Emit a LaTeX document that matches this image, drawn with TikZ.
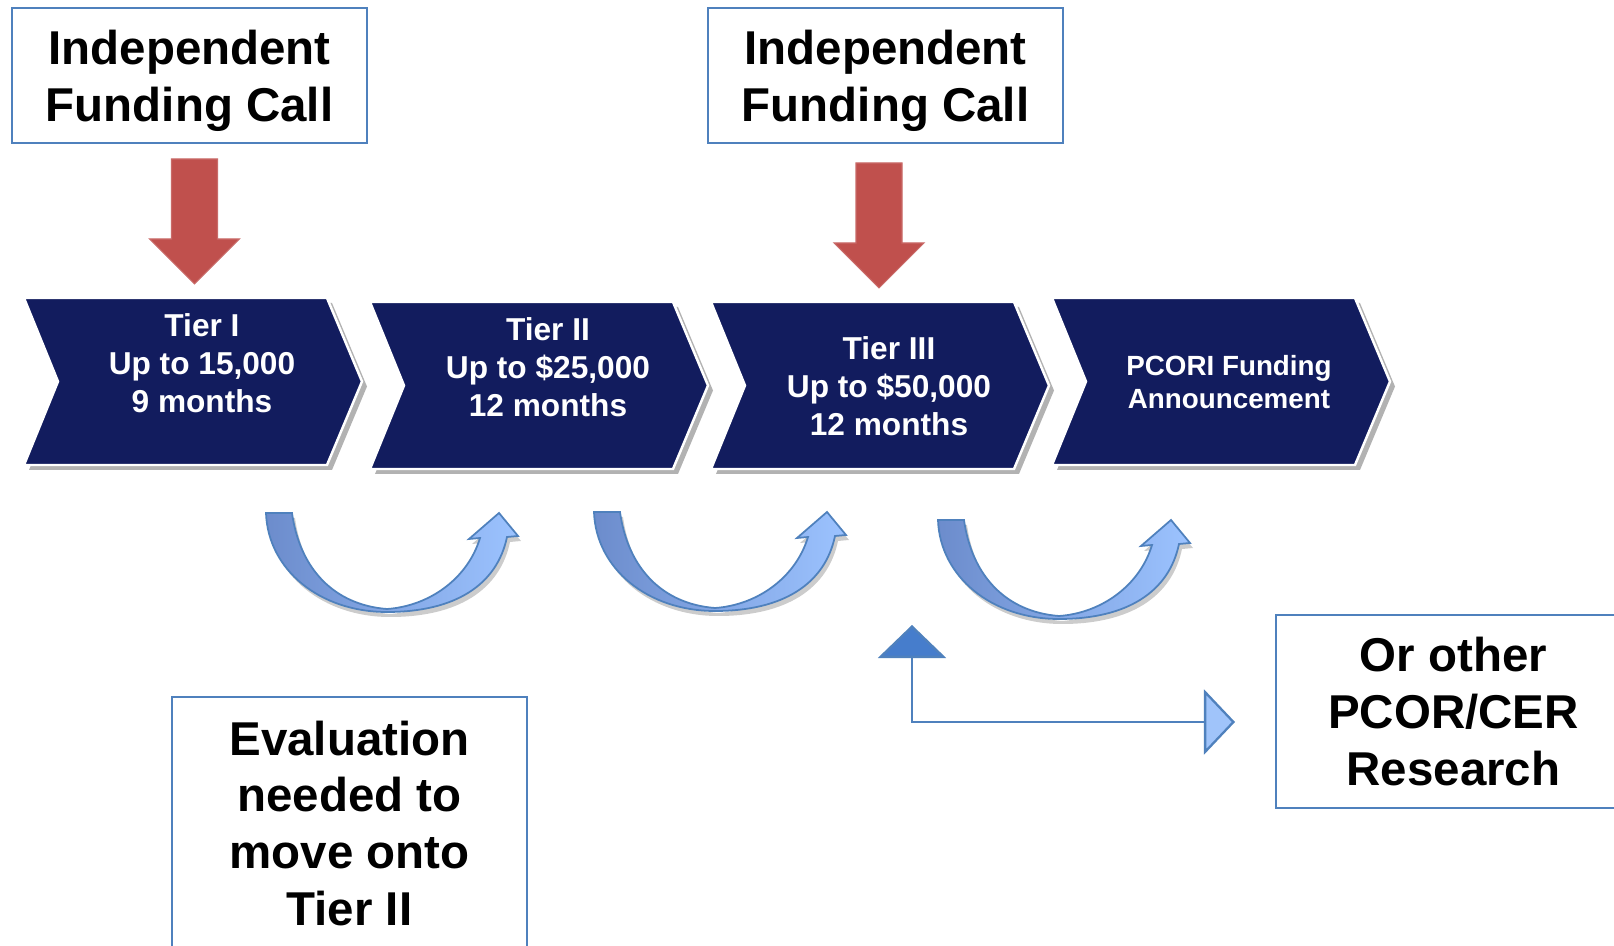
\documentclass[tikz,border=0pt]{standalone}
\usepackage{fontspec}
\setmainfont{Liberation Sans}
\usepackage{xcolor}
\usetikzlibrary{calc,shadows,arrows.meta}
\definecolor{tiernavy}{RGB}{18,28,94}
\definecolor{callred}{RGB}{192,80,77}
\definecolor{boxblue}{RGB}{79,129,189}
\definecolor{turnleft}{RGB}{108,140,204}
\definecolor{turnmid}{RGB}{56,102,184}
\definecolor{turnright}{RGB}{156,195,255}
\definecolor{bentdark}{RGB}{70,125,204}
\definecolor{bentlight}{RGB}{160,196,250}
\tikzset{
	bigtext/.style={font=\fontsize{13.5}{16.2}\selectfont\bfseries, align=center, text=black},
	fundbox/.style={draw=boxblue, line width=0.6pt, fill=white, minimum width=3.55cm, bigtext},
	chevron/.style={fill=tiernavy, draw=white, line width=0.7pt, drop shadow={shadow xshift=0.05cm, shadow yshift=-0.05cm, fill=black, opacity=0.3}},
	tiertext/.style={text=white, align=center, font=\fontsize{9}{10.8}\selectfont\bfseries},
	smalltier/.style={font=\fontsize{7.9}{9.4}\selectfont\bfseries}
}
\tikzstyle{callarrow}=[fill=callred, draw=callred!85!white, line width=0.3pt]
\tikzstyle{uturn}=[left color=turnleft, middle color=turnmid, right color=turnright, draw=boxblue, line width=0.5pt, drop shadow={shadow xshift=0.03cm, shadow yshift=-0.05cm, fill=black, opacity=0.2}]
\tikzstyle{bentline}=[draw=boxblue, line width=0.65pt]
% chevron: name, left x, top y, text x, text y, style, text
\newcommand{\tierChevron}[7]{
	\draw[chevron] (#2,#3) -- ++(303,0) -- ++(35,83.5) -- ++(-35,83.5) -- ++(-303,0) -- ++(34,-83.5) -- cycle;
	\node[tiertext, #6] (#1) at (#4,#5) {#7};
}
\newcommand{\callArrow}[2]{
	\draw[callarrow] (#1-23,#2) -- (#1+23,#2) -- (#1+23,#2+80) -- (#1+45,#2+80) -- (#1,#2+125) -- (#1-45,#2+80) -- (#1-23,#2+80) -- cycle;
}
\newcommand{\uturnArrow}[2]{
	\begin{scope}[shift={(#1,#2)}]
		\draw[uturn] (266,513) -- (292,513) .. controls (300,570) and (335,605) .. (387,609)
			.. controls (430,606) and (468,578) .. (480,538) -- (469,539) -- (499,513) -- (518,536) -- (507,537)
			.. controls (497,585) and (455,612) .. (387,612) .. controls (320,612) and (268,570) .. (266,513) -- cycle;
	\end{scope}
}
\begin{document}
\begin{tikzpicture}[x=0.01cm, y=-0.01cm]
	\useasboundingbox (0,0) rectangle (1614,946);
	\fill[white] (0,0) rectangle (1614,946);
	\clip (0,0) rectangle (1614,946);
	\node[fundbox, minimum height=1.35cm] (callA) at (189.5,75.5) {\rule{0pt}{12.6pt}Independent\\Funding Call};
	\node[fundbox, minimum height=1.35cm] (callB) at (885.5,75.5) {\rule{0pt}{12.6pt}Independent\\Funding Call};
	\callArrow{194.5}{159}
	\callArrow{879}{163}
	\tierChevron{tierA}{24}{298}{202}{363}{}{Tier I\\Up to 15,000\\9 months}
	\tierChevron{tierB}{370}{302}{548}{367}{}{Tier II\\Up to \$25,000\\12 months}
	\tierChevron{tierC}{711}{302}{889}{386}{}{Tier III\\Up to \$50,000\\12 months}
	\tierChevron{pcori}{1052}{298}{1229}{382}{smalltier}{PCORI Funding\\Announcement}
	\uturnArrow{0}{0}
	\uturnArrow{328}{-1}
	\uturnArrow{672}{7}
	\coordinate (bendTop) at (912,625);
	\coordinate (bendEnd) at (1235,722);
	\draw[bentline, {Triangle[length=0.33cm, width=0.68cm, fill=bentdark]}-{Triangle[length=0.31cm, width=0.65cm, fill=bentlight]}] (bendTop) |- (bendEnd);
	\node[fundbox, minimum height=2.53cm] (evalbox) at (349.5,823.5) {Evaluation\\needed to\\move onto\\Tier II};
	\node[fundbox, minimum height=1.93cm] (otherbox) at (1453.5,711.5) {Or other\\PCOR/CER\\Research};
%	\node at (1453.5,850) {};
\end{tikzpicture}
\end{document}
